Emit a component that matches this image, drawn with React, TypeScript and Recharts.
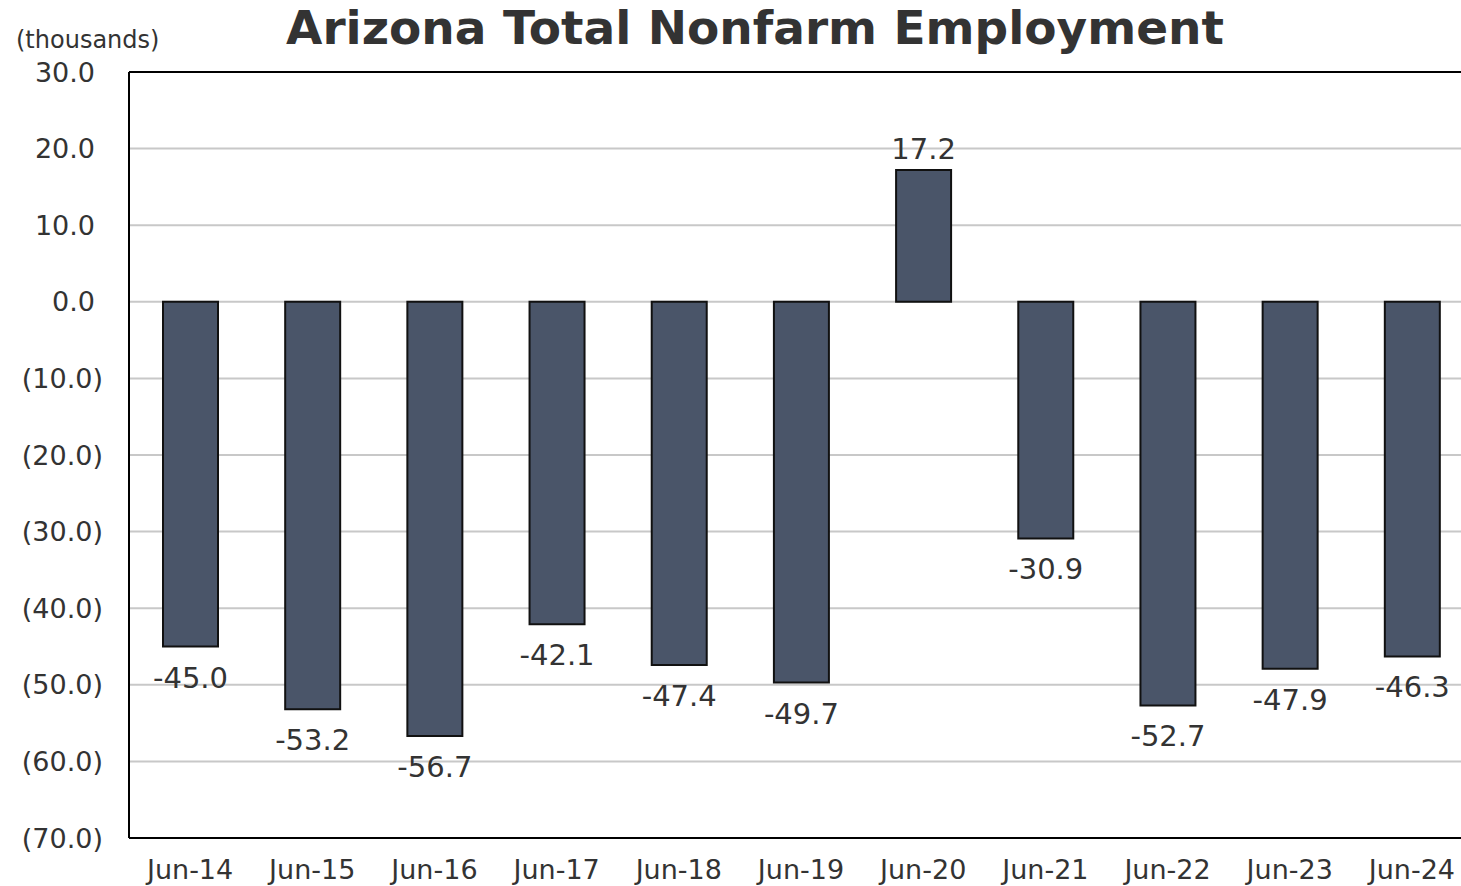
import React from "react";
import { BarChart, Bar, XAxis, YAxis, CartesianGrid, ReferenceLine, LabelList } from "recharts";

const categories = ["Jun-14", "Jun-15", "Jun-16", "Jun-17", "Jun-18", "Jun-19", "Jun-20", "Jun-21", "Jun-22", "Jun-23", "Jun-24"];
const values = [-45.0, -53.2, -56.7, -42.1, -47.4, -49.7, 17.2, -30.9, -52.7, -47.9, -46.3];
const yTicks = [-70, -60, -50, -40, -30, -20, -10, 0, 10, 20, 30];

const data = categories.map((c, i) => ({ name: c, value: values[i] }));

const FONT = "'DejaVu Sans', Verdana, sans-serif";

const fmtTick = (v: number) => (v < 0 ? `(${Math.abs(v).toFixed(1)})` : v.toFixed(1));

const YTick = (props: any) => {
  const { x, y, payload } = props;
  const v = payload.value;
  const dx = v < 0 ? 0 : -8;
  return (
    <text x={x + dx} y={y} textAnchor="end" dominantBaseline="central" fill="#333" fontSize={27} fontFamily={FONT}>
      {fmtTick(v)}
    </text>
  );
};

const XTick = (props: any) => {
  const { x, y, payload } = props;
  return (
    <text x={x} y={y + 11} textAnchor="middle" dominantBaseline="central" fill="#333" fontSize={27} fontFamily={FONT}>
      {payload.value}
    </text>
  );
};

const ValueLabel = (props: any) => {
  const vb = props.viewBox || {};
  const x = props.x ?? vb.x;
  const y = props.y ?? vb.y;
  const width = props.width ?? vb.width;
  const height = props.height ?? vb.height;
  const value = Number(props.value);
  const cx = x + width / 2;
  const top = Math.min(y, y + height);
  const bottom = Math.max(y, y + height);
  const neg = value < 0;
  const ty = neg ? bottom + 31 : top - 21;
  return (
    <text x={cx} y={ty} textAnchor="middle" dominantBaseline="central" fill="#333" fontSize={29} fontFamily={FONT}>
      {value.toFixed(1)}
    </text>
  );
};

export default function App() {
  return (
    <div style={{ position: "absolute", left: 0, top: 0, width: 1461, height: 886, overflow: "hidden", background: "#fff" }}>
      <div style={{ position: "absolute", left: 0, top: 0, width: 1510, textAlign: "center", fontFamily: FONT, fontWeight: "bold", fontSize: 47, color: "#333", lineHeight: "56px" }}>
        Arizona Total Nonfarm Employment
      </div>
      <div style={{ position: "absolute", left: 16, top: 26, fontFamily: FONT, fontSize: 24, color: "#333", lineHeight: "28px" }}>
        (thousands)
      </div>
      <BarChart width={1480} height={886} data={data} margin={{ top: 72, right: 7, bottom: 0, left: 0 }} barSize={55}>
        <CartesianGrid horizontal vertical={false} stroke="#c8c8c8" strokeWidth={2} />
        <XAxis dataKey="name" height={48} axisLine={{ stroke: "#000", strokeWidth: 2 }} tickLine={false} tickSize={0} tickMargin={20}
          tick={<XTick />} interval={0} />
        <YAxis domain={[-70, 30]} ticks={yTicks} width={129} axisLine={{ stroke: "#000", strokeWidth: 2 }} tickLine={false}
          tickSize={0} tickMargin={26} tick={<YTick />} allowDataOverflow />
        <ReferenceLine y={30} stroke="#000" strokeWidth={2} />
        <Bar dataKey="value" fill="#4a5569" stroke="#111" strokeWidth={2} isAnimationActive={false}>
          <LabelList dataKey="value" content={<ValueLabel />} />
        </Bar>
      </BarChart>
    </div>
  );
}
